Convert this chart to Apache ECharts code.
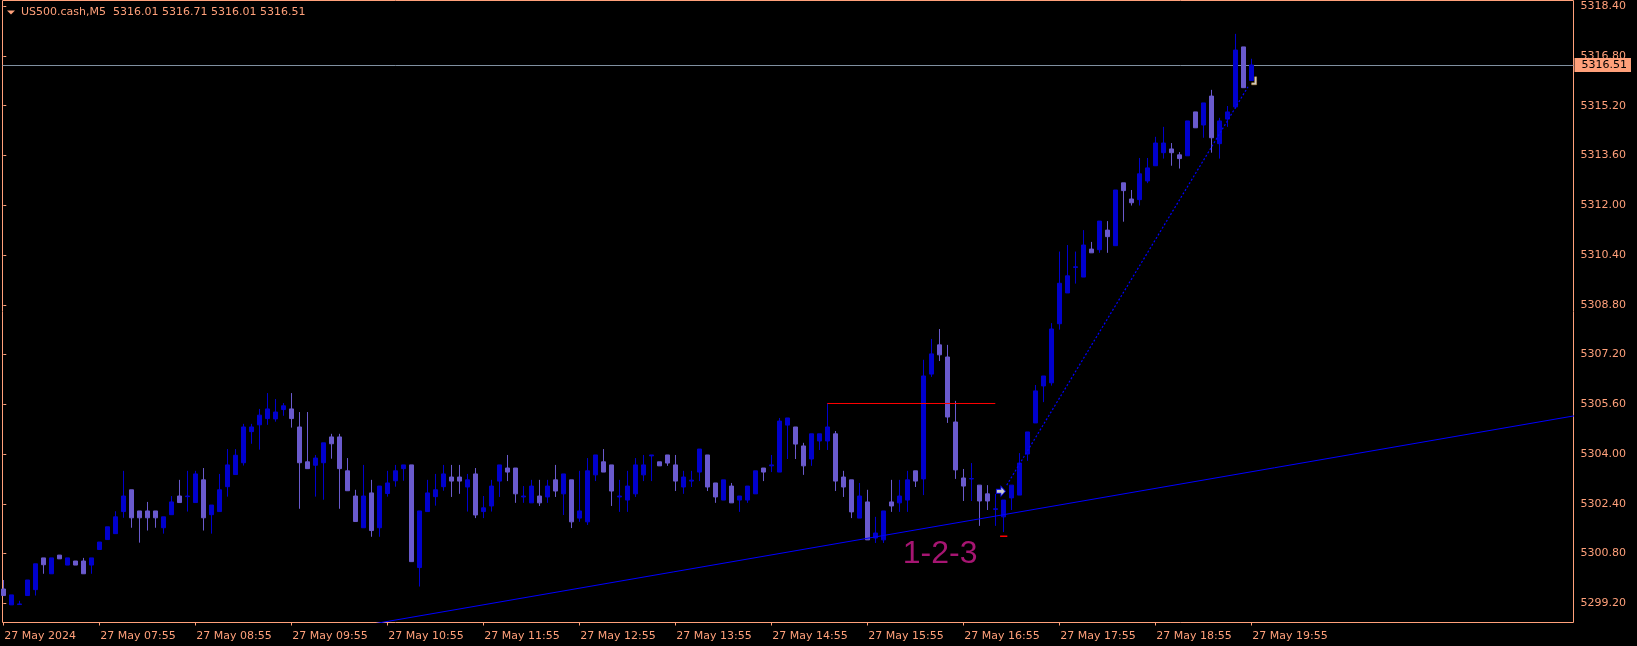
<!DOCTYPE html>
<html><head><meta charset="utf-8">
<script src="https://cdn.jsdelivr.net/npm/echarts@6/dist/echarts.min.js"></script>
<style>html,body{margin:0;padding:0;background:#000;}#c{width:1637px;height:646px;}</style>
</head><body><div id="c"></div>
<script>
const headerText = 'US500.cash,M5  5316.01 5316.71 5316.01 5316.51';
const timeLabels = ['27 May 2024','27 May 07:55','27 May 08:55','27 May 09:55','27 May 10:55','27 May 11:55','27 May 12:55','27 May 13:55','27 May 14:55','27 May 15:55','27 May 16:55','27 May 17:55','27 May 18:55','27 May 19:55'];
const barsPerLabel = 12;
const priceTicks = [5299.20,5300.80,5302.40,5304.00,5305.60,5307.20,5308.80,5310.40,5312.00,5313.60,5315.20,5316.80,5318.40];
const opens = [5299.66,5299.15,5299.16,5299.45,5299.64,5300.66,5300.15,5300.75,5300.43,5300.56,5300.56,5300.43,5300.93,5301.25,5301.44,5302.15,5302.85,5302.17,5302.17,5302.17,
5301.63,5302.05,5302.65,5302.63,5302.44,5303.17,5302.05,5302.15,5302.95,5303.34,5303.72,5304.72,5304.94,5305.14,5305.13,5305.43,5305.45,5304.87,5303.75,5303.64,
5303.72,5304.55,5304.55,5303.46,5302.65,5301.63,5302.75,5301.63,5302.73,5303.14,5303.53,5303.65,5300.35,5302.15,5302.63,5302.95,5303.26,5303.26,5302.94,5303.36,
5302.15,5302.33,5303.13,5303.55,5303.55,5302.62,5302.43,5302.65,5302.62,5303.17,5302.72,5303.17,5301.94,5301.82,5303.33,5303.75,5303.65,5302.62,5302.52,5302.72,
5303.33,5303.94,5303.75,5303.97,5303.65,5302.94,5303.13,5303.42,5303.97,5303.07,5302.52,5302.97,5302.52,5302.52,5302.72,5303.55,5303.62,5303.42,5304.93,5304.87,
5304.26,5303.84,5304.42,5304.42,5304.65,5303.26,5303.17,5301.94,5302.46,5301.30,5301.24,5302.46,5302.43,5302.52,5303.46,5303.20,5306.57,5307.51,5307.12,5305.03,
5303.23,5303.20,5303.00,5302.72,5302.22,5301.98,5302.59,5302.68,5304.00,5305.00,5306.19,5306.29,5308.19,5309.18,5310.00,5309.69,5310.59,5310.57,5311.20,5310.70,
5312.72,5312.20,5312.18,5312.78,5313.27,5313.69,5313.81,5313.62,5313.59,5315.00,5314.58,5315.51,5313.98,5314.77,5315.16,5317.09,5316.01];
const highs = [5299.95,5299.47,5299.28,5299.95,5300.47,5300.66,5300.66,5300.75,5300.66,5300.56,5300.66,5300.66,5301.17,5301.66,5302.16,5303.46,5302.85,5302.17,5302.46,5302.17,
5301.98,5302.65,5303.17,5303.46,5303.46,5303.55,5302.36,5303.36,5304.16,5304.16,5304.97,5304.97,5305.45,5305.96,5305.77,5305.64,5305.96,5305.35,5305.35,5303.97,
5304.36,5304.65,5304.65,5303.87,5302.85,5303.65,5303.17,5302.97,5303.46,5303.65,5303.65,5303.65,5302.17,5303.17,5303.36,5303.65,5303.65,5303.65,5303.36,5303.55,
5302.65,5303.17,5303.65,5303.97,5303.55,5302.97,5303.17,5303.17,5303.17,5303.65,5303.36,5303.17,5303.46,5303.87,5303.97,5304.16,5303.65,5303.17,5303.46,5303.87,
5303.97,5303.97,5303.75,5303.97,5303.97,5303.46,5303.46,5304.16,5303.97,5303.07,5303.17,5303.07,5302.65,5302.97,5303.46,5303.55,5303.97,5305.16,5305.16,5304.87,
5304.36,5304.65,5304.65,5305.63,5304.74,5303.46,5303.17,5303.07,5302.85,5301.98,5302.17,5303.17,5303.17,5303.46,5303.46,5307.03,5307.70,5308.02,5307.51,5305.71,
5303.52,5303.71,5303.00,5303.00,5302.72,5302.52,5303.00,5304.03,5304.71,5306.22,5306.51,5308.21,5310.51,5310.72,5310.51,5311.20,5310.82,5311.49,5311.49,5312.49,
5312.72,5312.49,5313.52,5313.52,5314.20,5314.52,5314.00,5313.71,5314.71,5315.00,5315.29,5315.71,5314.81,5315.19,5317.51,5317.09,5316.71];
const lows = [5299.45,5299.15,5299.15,5299.45,5299.45,5300.15,5300.15,5300.63,5300.43,5300.43,5300.15,5300.15,5300.93,5301.25,5301.44,5301.95,5301.63,5301.15,5301.54,5301.63,
5301.44,5302.05,5302.44,5302.15,5302.44,5301.54,5301.44,5302.15,5302.63,5303.34,5303.63,5304.33,5304.14,5304.94,5305.04,5305.23,5304.85,5302.24,5303.53,5302.63,
5302.53,5303.85,5302.24,5302.82,5301.83,5301.63,5301.34,5301.34,5302.63,5302.95,5303.14,5300.54,5299.74,5302.15,5302.34,5302.82,5302.62,5302.72,5302.15,5301.94,
5301.94,5302.15,5302.62,5303.13,5302.43,5302.43,5302.43,5302.33,5302.43,5302.62,5302.04,5301.62,5301.82,5301.72,5303.13,5303.42,5302.33,5302.14,5302.14,5302.62,
5303.13,5303.13,5303.62,5303.62,5302.81,5302.72,5302.94,5303.13,5302.81,5302.43,5302.52,5302.43,5302.14,5302.43,5302.72,5303.13,5303.42,5303.42,5303.84,5303.84,
5303.33,5303.62,5304.13,5304.13,5302.81,5302.62,5301.94,5301.94,5301.24,5301.14,5301.14,5302.14,5302.14,5302.14,5302.94,5302.68,5306.48,5306.99,5305.00,5303.20,
5302.49,5302.49,5301.69,5302.20,5301.69,5301.49,5302.20,5302.68,5303.78,5305.00,5305.67,5306.20,5308.00,5309.18,5309.48,5309.69,5310.47,5310.47,5310.47,5310.70,
5311.47,5311.99,5311.99,5312.71,5313.27,5313.50,5313.27,5313.18,5313.59,5314.49,5314.17,5313.69,5313.50,5314.52,5315.10,5315.78,5316.01];
const closes = [5299.45,5299.47,5299.18,5299.95,5300.47,5300.44,5300.66,5300.63,5300.66,5300.43,5300.15,5300.66,5301.17,5301.66,5301.98,5302.65,5301.95,5301.95,5301.95,5301.95,
5301.98,5302.46,5302.44,5302.65,5303.36,5301.95,5302.36,5302.85,5303.65,5303.96,5304.87,5304.87,5305.25,5305.45,5305.35,5305.55,5305.14,5303.72,5303.53,5303.87,
5304.36,5304.33,5303.53,5302.82,5301.83,5302.65,5301.54,5302.97,5303.07,5303.46,5303.65,5300.54,5302.17,5302.75,5302.85,5303.36,5303.13,5303.13,5303.17,5302.04,
5302.27,5302.97,5303.65,5303.42,5302.72,5302.65,5302.97,5302.43,5302.97,5302.81,5303.36,5301.82,5302.17,5303.46,5303.97,5303.42,5302.81,5302.65,5302.97,5303.65,
5303.65,5303.97,5303.62,5303.71,5303.13,5303.26,5303.16,5304.16,5302.94,5302.62,5303.17,5302.43,5302.65,5302.97,5303.46,5303.42,5303.65,5305.06,5305.16,5304.32,
5303.62,5304.65,5304.65,5304.87,5303.13,5302.94,5302.14,5302.65,5301.24,5301.46,5302.17,5302.33,5302.65,5303.17,5303.13,5306.51,5307.22,5307.19,5305.19,5303.49,
5302.97,5303.21,5302.49,5302.49,5302.24,5302.52,5303.00,5303.71,5304.71,5306.03,5306.51,5308.02,5309.49,5309.73,5310.02,5310.72,5310.47,5311.49,5310.99,5312.49,
5312.47,5312.08,5313.01,5313.20,5314.00,5314.00,5313.69,5313.50,5314.71,5314.49,5315.29,5314.17,5314.71,5315.00,5316.99,5315.78,5316.51];
const lastPrice = 5316.51;
// objects drawn on the chart: [barIndex, price]
const resistanceLine = [[103, 5305.625], [124, 5305.625]];
const supportTrend = [[40, 5298.26], [200, 5305.39]];
const dottedTrend = [[125.43, 5303.00], [155.59, 5315.81]];
const pointThreeMark = [[124.6, 5301.36], [125.5, 5301.36]];
const patternText = {text: '1-2-3', at: [117.1, 5300.78]};
const arrowMark = [124.7, 5302.80];
const cursorMark = [156.35, 5316.0];

const FG = '#FFA07A';
const FONT = 'DejaVu Sans';
const candleData = opens.map((o, i) => [i, o, closes[i], lows[i], highs[i]]);
const labelIdx = timeLabels.map((_, k) => k * barsPerLabel);

const chart = echarts.init(document.getElementById('c'), null, {renderer: 'canvas'});
chart.setOption({
  backgroundColor: '#000',
  animation: false,
  grid: {left: 2.5, top: 0.5, width: 1571, height: 622, show: true, borderColor: FG, borderWidth: 1, backgroundColor: 'transparent'},
  xAxis: {
    type: 'value', min: -0.1, max: 196.275,
    axisLine: {show: false},
    splitLine: {show: false},
    axisTick: {show: true, length: 3, customValues: labelIdx, lineStyle: {color: FG}},
    axisLabel: {customValues: labelIdx, formatter: v => timeLabels[Math.round(v / barsPerLabel)],
      color: FG, fontFamily: FONT, fontSize: 11, align: 'left', margin: 8, padding: [0,0,0,1]}
  },
  yAxis: {
    type: 'value', position: 'right', min: 5298.583, max: 5318.583, scale: true,
    axisLine: {show: false},
    splitLine: {show: false},
    axisTick: {show: true, length: 3, customValues: priceTicks, lineStyle: {color: FG}},
    axisLabel: {customValues: priceTicks, formatter: v => v.toFixed(2), color: FG, fontFamily: FONT, fontSize: 11, margin: 7}
  },
  graphic: [
    {type: 'polygon', shape: {points: [[7, 10.5], [15, 10.5], [11, 14.5]]}, style: {fill: FG}, z: 100},
    {type: 'text', left: 21, top: 7, style: {text: headerText, fill: FG, font: '11px "DejaVu Sans"'}, z: 100}
  ],
  series: [
    {
      type: 'candlestick', data: candleData, encode: {x: 0, y: [1, 2, 3, 4]},
      barWidth: 4, z: 3,
      itemStyle: {color: '#0000CD', color0: '#6A5ACD', borderColor: '#0000CD', borderColor0: '#6A5ACD', borderWidth: 1},
      markLine: {
        silent: true, symbol: ['none', 'none'], z: 1,
        lineStyle: {color: '#8090A0', width: 1, type: 'solid'},
        label: {show: true, position: 'end', distance: 1, formatter: lastPrice.toFixed(2),
          backgroundColor: FG, color: '#000', fontFamily: FONT, fontSize: 11, lineHeight: 14, padding: [0, 4, 0, 7]},
        data: [{yAxis: lastPrice}]
      }
    },
    {type: 'line', data: supportTrend, symbol: 'none', lineStyle: {color: '#0000FF', width: 1}, z: 4, clip: true},
    {type: 'line', data: dottedTrend, symbol: 'none', lineStyle: {color: '#0000FF', width: 1.2, type: [2, 2]}, z: 4},
    {type: 'line', data: resistanceLine, symbol: 'none', lineStyle: {color: '#FF0000', width: 1}, z: 4},
    {type: 'line', data: pointThreeMark, symbol: 'none', lineStyle: {color: '#FF0000', width: 1.5}, z: 4},
    {type: 'scatter', data: [patternText.at], symbolSize: 0, z: 6,
      label: {show: true, position: 'inside', formatter: patternText.text, color: '#D01A8E', fontFamily: 'Liberation Sans', fontSize: 32}},
    {type: 'scatter', data: [arrowMark], z: 7, symbol: 'path://M0,3 L5,3 L5,0 L10,5 L5,10 L5,7 L0,7 Z', symbolSize: [9, 10],
      itemStyle: {color: '#FFFFFF', borderColor: '#0000FF', borderWidth: 1}},
    {type: 'scatter', data: [cursorMark], z: 7, symbol: 'path://M0,6 L3,6 L3,0 L5,0 L5,8 L0,8 Z', symbolSize: [5, 8],
      itemStyle: {color: '#FFFFFF', borderColor: '#E0A030', borderWidth: 0.5}}
  ]
});
</script></body></html>
